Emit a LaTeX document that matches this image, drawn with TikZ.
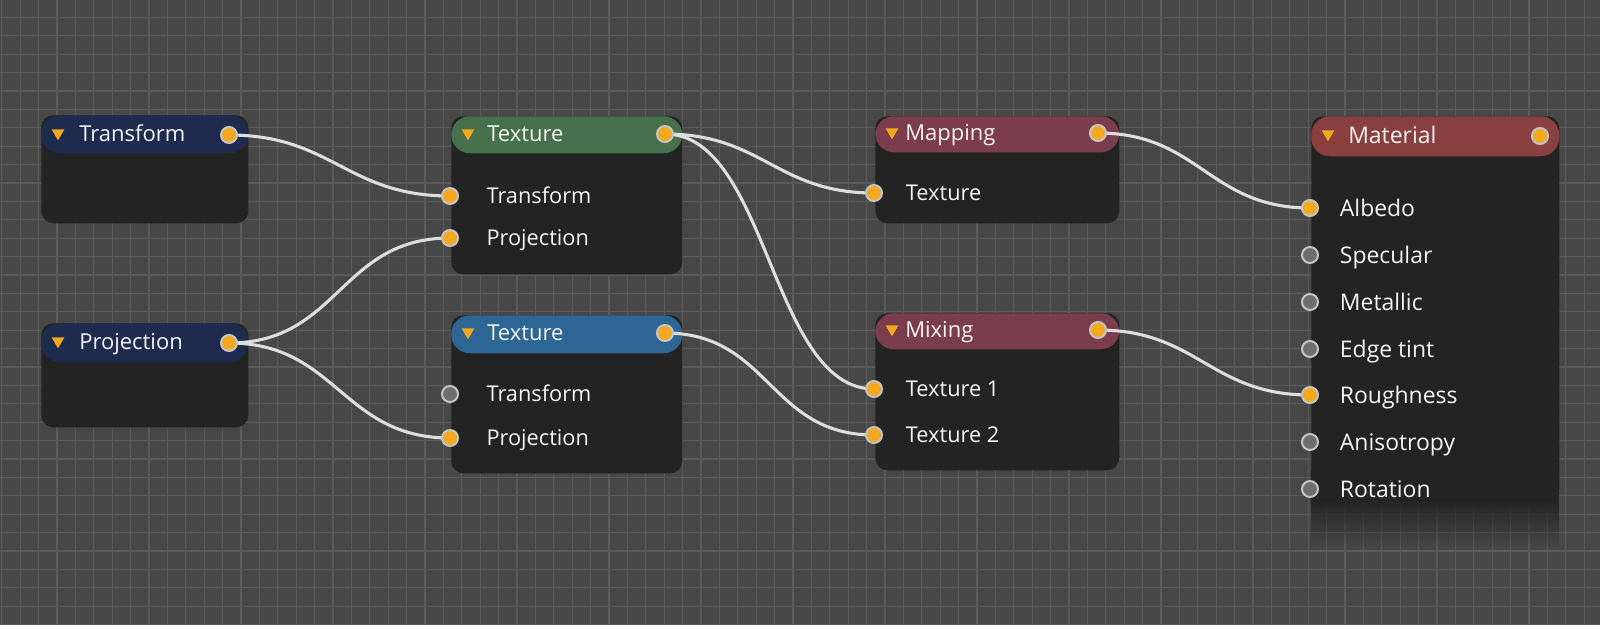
\documentclass[tikz,border=0pt]{standalone}
\usepackage{fontspec}
\setmainfont{Open Sans}
\usetikzlibrary{positioning, shapes.geometric, backgrounds, fadings}
\pgfdeclarelayer{wires}
\pgfsetlayers{background,wires,main}

\definecolor{bgcol}{HTML}{474747}
\definecolor{gridcol}{HTML}{5A5A5A}
\definecolor{bodycol}{HTML}{232323}
\definecolor{navy}{HTML}{1F2A4F}
\definecolor{leaf}{HTML}{46704C}
\definecolor{steel}{HTML}{2D6694}
\definecolor{wine}{HTML}{7B3C4D}
\definecolor{brick}{HTML}{8A3F3F}
\definecolor{portorange}{HTML}{F4A81D}
\definecolor{portrim}{HTML}{C4C4C4}
\definecolor{portgray}{HTML}{6E6E6E}
\definecolor{wirecol}{HTML}{DEDEDE}
\definecolor{textcol}{HTML}{F4F4F4}

\tikzfading[name=fade down, top color=transparent!0, bottom color=transparent!100]

\begin{document}
\begin{tikzpicture}[
    x=0.75pt, y=-0.75pt,
    body/.style={rectangle, fill=bodycol, rounded corners=9pt, anchor=north west, inner sep=0pt},
    head/.style={rectangle, rounded corners=14pt, anchor=north west, inner sep=0pt},
    tri/.style={regular polygon, regular polygon sides=3, shape border rotate=180, fill=portorange, inner sep=0pt, minimum size=11pt},
    title/.style={anchor=west, inner sep=0pt, text=textcol, text height=11.7pt, text depth=0pt, font=\fontsize{16.5}{19}\selectfont},
    port/.style={circle, fill=portorange, draw=portrim, line width=1.5pt, minimum size=12pt, inner sep=0pt},
    freeport/.style={port, fill=portgray},
    portlabel/.style={inner sep=0pt, text=textcol, text height=11.6pt, text depth=0pt, font=\fontsize{16.3}{19}\selectfont},
    biglabel/.style={portlabel, text height=12.3pt, font=\fontsize{17.2}{20}\selectfont},
    wire/.style={draw=wirecol, line width=2.3pt, looseness=1.15},
    gridline/.style={draw=gridcol, line width=0.9pt}
]
    \useasboundingbox (0,0) rectangle (1600,625);

    \begin{pgfonlayer}{background}
        \fill[bgcol] (0,0) rectangle (1600,625);
        \foreach \gx in {0,...,86}
            \draw[gridline] ({1.7+18.4*\gx},0) -- ({1.7+18.4*\gx},625);
        \foreach \gy in {1,...,34}
            \draw[gridline] (0,{-1.1+18.4*\gy}) -- (1600,{-1.1+18.4*\gy});

        % node bodies
        \node[body, minimum width=155.25pt, minimum height=81pt] (tr) at (41,115) {};
        \node[body, minimum width=155.25pt, minimum height=78pt] (pr) at (41,323) {};
        \node[body, minimum width=173.25pt, minimum height=118.5pt] (tg) at (451,116) {};
        \node[body, minimum width=173.25pt, minimum height=118.5pt] (tb) at (451,315) {};
        \node[body, minimum width=183pt, minimum height=80.25pt] (mp) at (875,116) {};
        \node[body, minimum width=183pt, minimum height=117.75pt] (mx) at (875,313) {};
        \node[body, minimum width=186pt, minimum height=288pt] (mt) at (1311,116) {};
        \fill[bodycol] (1311,470) rectangle (1559,500);
        \fill[bodycol, path fading=fade down] (1311,499) rectangle (1559,548);

        % headers
        \node[head, fill=navy, minimum width=155.25pt, minimum height=28.5pt] (tr-head) at (41,115) {};
        \node[head, fill=navy, minimum width=155.25pt, minimum height=29pt] (pr-head) at (41,323) {};
        \node[head, fill=leaf, minimum width=173.25pt, minimum height=27.75pt] (tg-head) at (451,116) {};
        \node[head, fill=steel, minimum width=173.25pt, minimum height=28.5pt] (tb-head) at (451,315) {};
        \node[head, fill=wine, minimum width=183pt, minimum height=27pt] (mp-head) at (875,116) {};
        \node[head, fill=wine, minimum width=183pt, minimum height=27pt] (mx-head) at (875,313) {};
        \node[head, fill=brick, minimum width=186pt, minimum height=30pt] (mt-head) at (1311,116) {};
    \end{pgfonlayer}

    % titles
    \node[tri] (tr-tri) at (58,133) {};
    \node[title] (tr-title) at (79,134) {Transform};
    \node[tri] (pr-tri) at (58,341) {};
    \node[title] (pr-title) at (79,342) {Projection};
    \node[tri] (tg-tri) at (468,133) {};
    \node[title] (tg-title) at (487,134) {Texture};
    \node[tri] (tb-tri) at (468,332) {};
    \node[title] (tb-title) at (487,333) {Texture};
    \node[tri] (mp-tri) at (892,132) {};
    \node[title] (mp-title) at (905,133) {Mapping};
    \node[tri] (mx-tri) at (892,329) {};
    \node[title] (mx-title) at (905,330) {Mixing};
    \node[tri] (mt-tri) at (1328,134) {};
    \node[title, text height=12.3pt, font=\fontsize{17.2}{20}\selectfont] (mt-title) at (1348,135) {Material};

    % ports
    \node[port] (tr-out) at (229,135) {};
    \node[port] (pr-out) at (229,343) {};

    \node[port] (tg-out) at (665,134) {};
    \node[port] (tg-in1) at (450,196) {};
    \node[port] (tg-in2) at (450,238) {};
    \node[portlabel] (tg-lbl1) [right=20.5pt of tg-in1] {Transform};
    \node[portlabel] (tg-lbl2) [right=20.5pt of tg-in2] {Projection};

    \node[port] (tb-out) at (665,333) {};
    \node[freeport] (tb-in1) at (450,394) {};
    \node[port] (tb-in2) at (450,438) {};
    \node[portlabel] (tb-lbl1) [right=20.5pt of tb-in1] {Transform};
    \node[portlabel] (tb-lbl2) [right=20.5pt of tb-in2] {Projection};

    \node[port] (mp-out) at (1098,133) {};
    \node[port] (mp-in1) at (874,193) {};
    \node[portlabel] (mp-lbl1) [right=17pt of mp-in1] {Texture};

    \node[port] (mx-out) at (1098,330) {};
    \node[port] (mx-in1) at (874,389) {};
    \node[port] (mx-in2) at (874,435) {};
    \node[portlabel] (mx-lbl1) [right=17pt of mx-in1] {Texture 1};
    \node[portlabel] (mx-lbl2) [right=17pt of mx-in2] {Texture 2};

    \node[port] (mt-out) at (1540,136) {};
    \node[port] (mt-alb) at (1310,208) {};
    \node[freeport] (mt-spec) at (1310,255) {};
    \node[freeport] (mt-met) at (1310,302) {};
    \node[freeport] (mt-edge) at (1310,349) {};
    \node[port] (mt-rough) at (1310,395) {};
    \node[freeport] (mt-aniso) at (1310,442) {};
    \node[freeport] (mt-rot) at (1310,489) {};
    \node[biglabel] (mt-lbl1) [right=15.5pt of mt-alb] {Albedo};
    \node[biglabel] (mt-lbl2) [right=15.5pt of mt-spec] {Specular};
    \node[biglabel] (mt-lbl3) [right=15.5pt of mt-met] {Metallic};
    \node[biglabel] (mt-lbl4) [right=15.5pt of mt-edge] {Edge tint};
    \node[biglabel] (mt-lbl5) [right=15.5pt of mt-rough] {Roughness};
    \node[biglabel] (mt-lbl6) [right=15.5pt of mt-aniso] {Anisotropy};
    \node[biglabel] (mt-lbl7) [right=15.5pt of mt-rot] {Rotation};

    % wires
    \begin{pgfonlayer}{wires}
        \draw[wire] (tr-out.center) to[out=0, in=180] (tg-in1.center);
        \draw[wire] (pr-out.center) to[out=0, in=180] (tg-in2.center);
        \draw[wire] (pr-out.center) to[out=0, in=180] (tb-in2.center);
        \draw[wire] (tg-out.center) to[out=0, in=180] (mp-in1.center);
        \draw[wire, looseness=0.8] (tg-out.center) to[out=0, in=180] (mx-in1.center);
        \draw[wire] (tb-out.center) to[out=0, in=180] (mx-in2.center);
        \draw[wire] (mp-out.center) to[out=0, in=180] (mt-alb.center);
        \draw[wire] (mx-out.center) to[out=0, in=180] (mt-rough.center);
    \end{pgfonlayer}
\end{tikzpicture}
\end{document}
